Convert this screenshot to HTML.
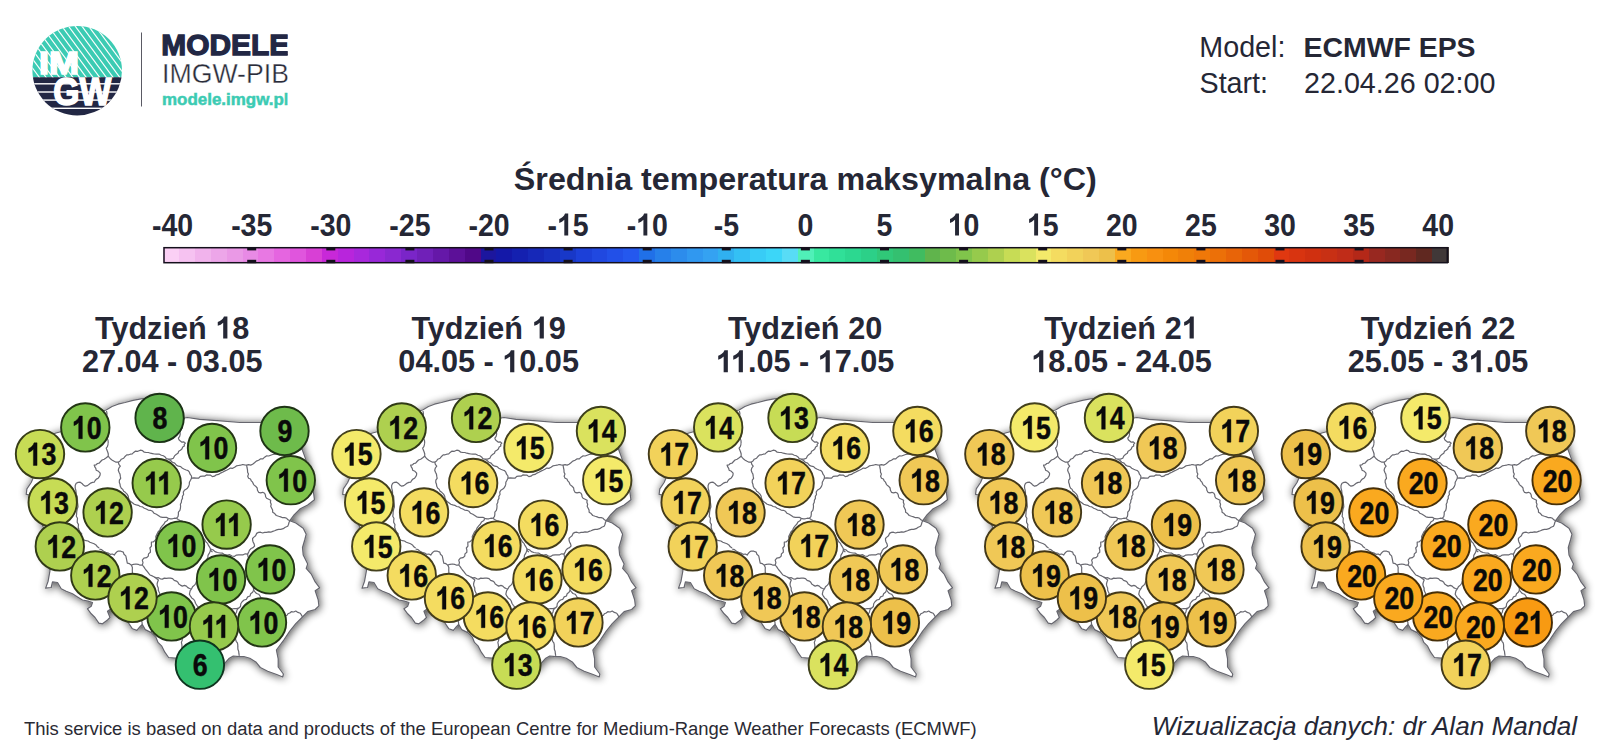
<!DOCTYPE html>
<html><head><meta charset="utf-8"><title>IMGW</title>
<style>html,body{margin:0;padding:0;background:#fff;overflow:hidden}svg{display:block}text{font-family:"Liberation Sans",sans-serif}</style></head><body>
<svg width="1600" height="743" viewBox="0 0 1600 743">
<defs>
<filter id="sh" x="-10%" y="-10%" width="125%" height="125%"><feGaussianBlur in="SourceAlpha" stdDeviation="4"/><feOffset dx="0.8" dy="0.6" result="b"/><feComponentTransfer><feFuncA type="linear" slope="0.72"/></feComponentTransfer><feMerge><feMergeNode/><feMergeNode in="SourceGraphic"/></feMerge></filter>
<path id="pl" d="M28.5 442.0 L36.0 439.5 L46.0 436.7 L56.0 433.0 L63.6 431.0 L72.0 428.5 L81.3 426.2 L88.0 421.0 L93.0 415.5 L99.0 412.0 L106.2 410.0 L112.0 406.5 L118.0 404.2 L125.0 402.5 L133.0 400.3 L141.0 398.8 L148.0 398.0 L153.0 398.5 L157.0 400.5 L162.0 404.0 L167.0 409.5 L165.5 409.5 L159.0 404.5 L157.5 407.0 L160.0 412.0 L162.0 417.5 L168.0 419.5 L176.0 419.0 L184.4 418.0 L187.5 417.5 L199.8 419.4 L217.5 420.6 L240.0 422.5 L260.0 422.5 L275.0 423.0 L283.0 423.5 L289.0 427.0 L295.0 430.5 L298.0 436.0 L301.0 442.0 L301.9 448.8 L304.7 456.4 L307.0 463.0 L309.0 472.0 L311.5 482.0 L313.7 493.8 L314.5 499.8 L307.7 505.0 L300.3 508.8 L294.3 514.7 L289.8 520.7 L295.8 523.0 L303.2 528.2 L306.2 534.2 L304.7 540.0 L302.5 547.5 L303.2 555.0 L307.7 563.9 L306.2 568.4 L311.5 574.4 L315.2 581.9 L319.7 587.8 L315.2 590.8 L318.2 599.8 L318.9 605.8 L315.2 609.5 L307.7 611.7 L302.5 617.0 L295.8 623.7 L289.8 631.2 L283.8 640.1 L276.4 650.0 L278.2 658.9 L278.2 667.0 L283.4 674.0 L282.7 677.0 L276.7 674.5 L267.7 671.2 L260.3 667.5 L255.8 661.9 L249.8 658.3 L243.8 656.5 L239.3 656.6 L233.3 656.0 L228.9 658.6 L225.1 663.0 L222.0 668.0 L215.0 672.0 L208.0 670.0 L203.0 675.0 L196.0 668.0 L190.0 664.0 L186.0 658.0 L180.0 657.0 L175.4 658.2 L168.6 657.5 L164.8 652.2 L161.8 646.2 L158.0 642.4 L155.8 637.1 L151.3 632.6 L145.2 629.6 L142.2 624.3 L140.0 626.6 L136.9 630.4 L132.4 628.8 L129.4 624.3 L126.0 619.0 L121.0 615.0 L115.0 611.0 L110.0 609.4 L107.5 611.2 L110.0 617.5 L107.5 620.0 L102.5 623.8 L98.8 623.1 L95.0 617.5 L91.2 613.8 L87.5 608.8 L91.2 606.2 L92.5 602.5 L88.1 601.2 L82.5 600.0 L77.5 596.9 L72.5 593.8 L66.2 591.2 L61.2 588.8 L57.5 582.5 L52.5 581.9 L51.2 587.5 L45.6 588.1 L48.1 581.2 L50.0 570.6 L49.0 562.0 L44.0 556.0 L42.0 549.0 L40.5 542.0 L43.0 536.0 L44.5 530.0 L41.0 522.0 L38.6 513.0 L41.0 506.0 L36.0 501.0 L31.0 497.0 L29.4 495.0 L26.2 494.4 L26.9 488.8 L31.2 482.5 L34.0 476.0 L34.2 471.0 L32.0 462.0 L30.4 452.5 Z"/>
<g id="inb" fill="none" stroke="#686870" stroke-width="1.2" stroke-linejoin="round">
<path d="M106.5 411.0 L107.0 413.4 L106.7 415.9 L107.1 418.4 L106.9 420.9 L107.0 423.4 L107.9 425.8 L108.1 428.2 L107.0 430.8 L108.0 433.2 L108.2 435.7 L107.2 438.2 L108.1 440.6 L108.2 443.1"/>
<path d="M108.2 443.1 L107.9 444.9 L107.4 446.7 L106.2 448.1 L106.9 450.1 L107.7 452.0 L108.3 454.0 L108.2 456.2 L106.3 457.8 L104.2 459.2 L102.1 460.0 L100.6 461.5 L99.2 463.2 L97.4 463.5 L96.0 464.9 L94.2 465.2 L94.8 466.9 L95.8 468.4 L96.2 470.2 L98.5 471.3 L100.2 473.2 L100.1 475.1 L99.3 476.7 L98.2 478.2 L96.4 479.1 L95.2 480.5 L94.2 482.2 L92.4 482.4 L90.7 483.1 L89.2 484.2 L87.4 485.6 L85.2 486.2 L83.4 485.1 L82.0 483.4 L80.2 482.2 L78.1 482.4 L76.2 483.2 L75.2 485.6 L75.2 488.2"/>
<path d="M108.2 456.2 L109.4 457.7 L110.7 459.1 L112.3 460.2 L114.2 461.3 L116.1 462.2 L118.3 462.2 L120.1 461.0 L121.3 459.2 L123.7 458.2 L125.3 456.2 L126.7 454.9 L128.6 454.8 L130.3 454.2 L132.3 453.8 L133.7 452.4 L135.3 451.2 L137.9 451.3 L140.3 450.2 L142.6 450.7 L144.3 452.2 L146.3 452.5 L148.4 452.5 L150.4 453.2 L152.4 453.6 L154.4 454.0 L156.4 454.2 L159.0 454.0 L161.4 455.2 L163.4 455.8 L165.1 456.9 L166.3 458.7 L168.4 459.2 L171.0 459.1 L173.4 458.2 L174.5 455.9 L176.4 454.2 L178.0 453.2 L178.7 451.2 L180.4 450.2 L181.9 449.0 L182.7 447.1 L184.4 446.1 L184.2 444.4 L185.4 443.1 L183.9 441.9 L181.9 442.2 L180.4 441.1 L179.0 439.8 L178.4 438.1 L179.7 436.3 L180.2 434.2 L180.0 431.9 L181.0 430.0 L182.3 427.8 L182.4 425.2 L183.3 422.9 L183.3 420.3 L184.4 418.0"/>
<path d="M118.3 462.2 L118.9 464.4 L120.3 466.2 L118.9 468.0 L118.3 470.2 L119.0 472.2 L120.0 474.1 L120.3 476.2 L120.7 478.3 L119.4 480.2 L119.3 482.2 L120.0 484.2 L120.3 486.3 L121.3 488.2 L122.8 489.4 L123.7 491.2 L125.3 492.3 L127.1 494.1 L128.3 496.3 L128.5 498.1 L129.3 499.8 L130.3 501.3 L132.4 502.7 L134.3 504.3 L136.3 504.9 L138.3 505.3 L140.2 506.5 L142.5 506.9 L144.3 508.3 L146.3 509.0 L148.2 510.1 L150.4 510.3 L152.6 511.3 L154.1 513.3 L156.4 514.3 L158.3 515.5 L160.2 516.8 L162.4 517.3 L164.4 517.4 L166.5 517.4 L168.4 518.3 L170.4 518.8 L172.4 518.8 L174.4 518.2 L176.4 518.3"/>
<path d="M168.4 459.2 L170.6 460.5 L172.4 462.2 L174.7 463.1 L176.3 465.1 L178.4 466.2 L180.7 466.6 L182.4 468.2 L184.4 469.2 L186.2 470.0 L188.1 470.6 L189.4 472.2 L190.1 474.2 L191.5 476.0 L191.5 478.2 L190.5 480.2 L189.4 482.2 L189.3 484.4 L188.6 486.4 L187.4 488.2 L186.0 489.3 L184.4 490.3 L183.3 492.1 L183.6 494.5 L182.4 496.3 L182.5 498.4 L181.5 500.3 L181.4 502.3 L180.4 504.2 L180.6 506.3 L180.4 508.3 L179.9 510.3 L178.4 512.1 L178.4 514.3 L178.0 516.6 L176.4 518.3"/>
<path d="M191.5 478.2 L194.0 477.8 L196.5 478.2 L198.7 478.2 L200.3 476.3 L202.5 476.2 L204.6 476.2 L206.4 474.9 L208.5 475.2 L210.6 475.2 L212.4 476.6 L214.5 476.2 L216.3 474.8 L218.6 474.4 L220.5 473.1 L222.5 472.2 L224.5 471.1 L226.5 470.2 L228.5 469.2 L230.4 468.1 L232.7 468.3 L234.6 467.2 L236.4 465.9 L238.5 465.5 L240.6 465.2 L242.6 464.5 L244.6 464.9 L246.6 465.2 L248.6 464.7 L250.7 465.1 L252.6 464.2 L254.5 462.7 L256.3 461.1 L258.6 460.2 L260.4 458.9 L262.9 458.9 L264.6 457.2 L266.4 455.9 L268.7 456.0 L270.7 455.2 L272.7 454.5 L274.7 454.2 L276.8 454.0 L278.8 453.1 L280.9 453.2 L282.9 452.4 L285.0 452.0 L287.5 451.8 L290.0 451.7 L292.3 450.8 L294.6 449.8 L297.0 449.2 L299.7 450.1 L302.0 449.0"/>
<path d="M246.6 465.2 L247.0 467.5 L247.5 469.8 L247.6 472.2 L248.5 474.1 L247.7 476.3 L248.6 478.2 L250.5 479.0 L251.3 480.9 L252.6 482.2 L253.6 484.6 L255.6 486.2 L257.2 488.0 L257.5 490.3 L258.6 492.3 L260.6 492.8 L262.7 492.3 L264.6 493.3 L265.4 494.9 L265.6 496.7 L266.6 498.3 L268.7 499.2 L270.7 500.3 L270.4 502.3 L271.2 504.3 L270.7 506.3 L271.7 508.2 L272.6 510.1 L272.7 512.3 L274.7 513.6 L276.3 515.5 L278.7 516.3 L280.7 516.9 L282.6 517.7 L284.7 517.6 L286.7 518.3 L288.0 519.8 L289.8 520.7"/>
<path d="M289.8 520.7 L289.0 522.5 L288.5 524.5 L287.7 526.3 L285.3 527.2 L283.2 528.7 L280.7 529.3 L278.6 529.4 L276.6 529.9 L274.6 530.7 L272.7 531.4 L270.7 532.2 L268.6 531.9 L266.7 532.4 L264.6 532.4 L262.6 533.0 L260.5 532.2 L258.5 532.4 L256.6 533.4 L255.6 535.8 L253.6 537.4 L252.6 538.5 L252.6 540.0 L253.1 542.0 L254.1 543.9 L254.6 546.0 L253.1 547.6 L251.1 548.5 L249.6 550.1 L248.7 552.1 L247.6 554.1 L247.9 556.2 L248.6 558.1 L249.9 559.9 L250.0 562.0 L249.1 563.9 L248.3 565.8 L247.8 567.8 L248.0 570.0 L248.6 572.1 L250.2 573.7 L251.1 575.7 L251.7 577.8 L252.0 580.0 L251.7 582.7 L253.1 585.1 L253.4 587.6 L253.6 590.2"/>
<path d="M75.2 488.2 L75.8 490.2 L76.1 492.3 L76.1 494.4 L77.2 496.3 L77.4 498.3 L77.5 500.3 L77.5 502.3 L77.8 504.3 L78.0 506.9 L77.2 509.3 L76.7 511.8 L76.6 514.3 L76.3 516.3 L77.5 518.3 L77.3 520.3 L77.2 522.3 L78.5 524.6 L78.2 527.3 L79.0 529.7 L80.0 532.0 L81.7 533.7 L81.5 536.3 L82.5 538.3 L84.2 540.0 L86.0 540.7 L88.0 541.0 L89.9 542.2 L92.0 543.0 L94.1 543.8 L96.0 544.9 L97.4 546.8 L99.2 548.0"/>
<path d="M84.2 540.0 L82.7 542.0 L80.9 543.9 L79.4 545.8 L78.0 548.0 L76.8 550.0 L75.3 551.7 L73.3 552.9 L71.8 554.6 L70.0 556.0 L67.8 556.8 L65.9 558.2 L63.9 559.5 L62.0 560.7 L60.0 562.0 L57.9 562.6 L56.2 564.1 L54.0 564.5 L52.2 565.7 L50.0 566.0"/>
<path d="M99.2 549.0 L101.6 549.7 L103.6 551.3 L105.8 552.3 L108.2 553.1 L110.1 554.3 L112.4 554.0 L114.3 555.1 L115.3 553.5 L116.6 552.1 L118.3 551.1 L120.9 551.2 L123.3 552.1 L124.0 554.3 L125.8 555.9 L126.3 558.1 L126.8 560.6 L127.3 563.1 L129.5 563.7 L131.3 565.1 L133.6 564.3 L136.0 564.0 L138.1 564.3 L140.1 565.2 L142.3 565.1"/>
<path d="M131.3 565.1 L132.4 567.5 L132.3 570.1 L132.4 572.6 L132.9 575.1 L132.9 577.6 L134.0 580.0 L133.5 582.1 L132.7 584.1 L131.3 585.9 L130.6 587.9 L130.0 590.0 L130.8 592.4 L130.7 595.1 L131.7 597.5 L132.0 600.0 L132.8 602.2 L134.9 603.7 L136.0 605.8 L136.3 608.3 L138.0 610.0 L138.9 612.3 L139.7 614.7 L139.7 617.3 L140.6 619.6 L142.0 621.8 L142.2 624.3"/>
<path d="M142.3 565.1 L143.0 562.6 L142.3 560.1 L143.9 558.2 L146.5 557.7 L148.3 556.1 L148.5 553.9 L150.4 552.3 L150.4 550.1 L149.9 548.0 L151.5 546.1 L151.4 544.1 L151.4 542.0 L153.1 542.0 L154.4 541.0 L156.0 539.0 L155.8 536.4 L156.9 534.2 L158.0 532.0 L159.7 530.2 L160.7 527.8 L162.2 525.8 L164.0 524.0 L165.1 521.9 L167.4 520.5 L168.4 518.3"/>
<path d="M142.3 565.1 L143.7 566.6 L144.8 568.3 L146.0 570.0 L147.4 571.6 L148.7 573.3 L150.0 575.0 L152.3 575.9 L154.4 577.1 L156.3 577.8 L158.5 577.7 L160.4 578.8 L162.4 579.1 L164.3 578.1 L166.4 578.3 L168.4 578.1 L170.4 578.1 L172.6 578.6 L174.2 580.4 L176.4 581.1 L177.9 582.2 L178.8 584.1 L180.4 585.1 L182.3 586.1 L184.5 585.4 L186.4 586.1 L187.8 587.6 L189.6 588.5 L191.5 589.1"/>
<path d="M154.4 577.1 L156.4 578.6 L158.4 580.1 L157.6 582.0 L157.1 584.0 L157.4 586.1 L158.3 588.0 L158.3 590.2 L159.1 592.1 L160.0 594.0 L158.8 595.9 L158.5 598.3 L157.6 600.3 L156.0 602.0 L156.7 604.5 L156.6 607.1 L157.9 609.4 L158.0 612.0 L157.4 614.0 L157.1 616.1 L155.7 617.9 L155.0 619.8 L155.0 622.0 L154.4 624.2 L152.8 626.0 L153.4 628.6 L151.6 630.3 L151.3 632.6"/>
<path d="M191.5 589.1 L192.6 586.8 L194.5 585.1 L195.7 583.6 L196.3 581.6 L197.5 580.1 L198.8 577.8 L200.7 576.0 L202.4 574.0 L204.0 572.0 L204.5 569.5 L204.9 567.0 L205.2 564.4 L206.0 562.0 L206.4 559.7 L207.8 557.8 L208.0 555.4 L209.2 553.4 L210.2 551.3 L210.5 549.0 L211.0 550.8 L212.5 552.1"/>
<path d="M176.4 518.3 L178.2 519.5 L180.0 520.5 L182.1 521.1 L184.0 522.0 L186.0 523.5 L188.1 524.9 L189.6 527.1 L192.0 528.0 L194.2 529.2 L196.3 530.6 L198.2 532.2 L200.0 534.0 L201.8 535.8 L203.2 537.8 L204.8 539.8 L206.0 542.0 L207.6 543.4 L208.5 545.4 L209.6 547.1 L210.5 549.0"/>
<path d="M191.5 589.1 L190.2 590.6 L189.8 592.4 L189.4 594.2 L190.5 596.1 L191.7 597.9 L193.5 599.2 L194.8 601.0 L195.5 603.2 L196.8 605.3 L198.5 607.2 L196.7 608.6 L195.5 610.4 L194.5 612.4 L193.7 614.5 L192.0 616.0 L190.9 618.1 L189.0 619.6 L188.9 622.3 L187.4 624.1 L186.0 626.0 L184.7 628.2 L184.8 630.7 L184.4 633.1 L183.6 635.4 L182.1 637.5 L182.3 640.1 L181.4 642.4 L181.9 644.8 L182.0 647.2 L182.1 649.7 L183.0 652.0 L182.0 653.7 L181.5 655.7 L180.0 657.0"/>
<path d="M198.5 607.2 L200.7 606.5 L203.1 607.0 L205.4 606.7 L207.7 606.2 L210.0 606.0 L212.5 606.0 L214.7 607.2 L217.1 607.7 L219.6 607.6 L222.0 608.0 L224.5 608.3 L227.0 608.1 L229.6 608.0 L232.0 609.0 L234.2 608.5 L236.4 608.6 L238.6 608.2"/>
<path d="M238.6 608.2 L240.5 606.5 L240.8 603.8 L242.1 601.7 L244.0 600.0 L246.4 599.3 L247.7 596.9 L250.0 596.0 L250.7 593.8 L252.6 592.3 L253.6 590.2"/>
<path d="M238.6 608.2 L237.0 609.8 L236.6 612.0 L235.5 614.0 L235.2 616.2 L235.9 618.6 L234.7 620.6 L234.5 622.9 L234.0 625.0 L234.2 627.4 L235.1 629.7 L235.3 632.1 L235.1 634.6 L235.7 637.0 L235.6 639.4 L236.2 641.3 L237.4 642.9 L237.8 644.9 L237.8 646.9 L237.9 649.2 L238.7 651.4 L238.9 653.7 L239.3 655.9"/>
<path d="M253.6 590.2 L255.0 591.9 L256.5 593.5 L258.7 594.2 L260.0 596.0 L261.1 598.1 L263.5 598.9 L264.6 601.0 L266.8 602.0 L268.0 604.0 L269.3 605.9 L271.6 606.8 L272.6 609.0 L274.2 610.6 L276.0 612.0 L278.0 613.1 L280.3 613.3 L282.3 614.6 L284.4 615.5 L286.8 615.5 L287.9 613.8 L289.8 613.0 L291.3 611.7 L293.7 612.0 L295.8 611.0 L297.9 612.4 L300.3 613.2 L301.5 615.1 L302.5 617.0"/>
<path d="M210.5 549.0 L212.9 549.8 L215.0 551.6 L217.4 552.5 L220.0 553.0 L222.5 553.2 L224.7 554.7 L227.2 555.0 L229.8 554.7 L232.0 556.0 L234.3 556.4 L236.4 555.1 L238.7 554.9 L240.9 554.8 L243.2 554.8 L245.3 553.8 L247.6 554.1"/>
</g>
<path id="one" d="M806 0 L525 0 L525 1059 Q371 915 162 846 L162 1101 Q272 1137 401 1237.5 Q530 1338 578 1472 L806 1472 Z"/>
<clipPath id="lc"><circle cx="77.2" cy="70.7" r="44.8"/></clipPath><clipPath id="lt"><rect x="30" y="20" width="100" height="57.2"/></clipPath>
</defs>
<rect width="1600" height="743" fill="#fff"/>
<g clip-path="url(#lc)">
<rect x="30" y="24" width="95" height="53.2" fill="#3ccbb3"/>
<rect x="30" y="77.2" width="95" height="40" fill="#222744"/>
<g stroke="#fff" stroke-width="1.15" clip-path="url(#lt)"><line x1="-60.4" y1="24" x2="-16.0" y2="84.0"/><line x1="-53.7" y1="24" x2="-9.3" y2="84.0"/><line x1="-47.0" y1="24" x2="-2.6" y2="84.0"/><line x1="-40.3" y1="24" x2="4.1" y2="84.0"/><line x1="-33.6" y1="24" x2="10.8" y2="84.0"/><line x1="-26.9" y1="24" x2="17.5" y2="84.0"/><line x1="-20.2" y1="24" x2="24.2" y2="84.0"/><line x1="-13.5" y1="24" x2="30.9" y2="84.0"/><line x1="-6.8" y1="24" x2="37.6" y2="84.0"/><line x1="-0.1" y1="24" x2="44.3" y2="84.0"/><line x1="6.6" y1="24" x2="51.0" y2="84.0"/><line x1="13.3" y1="24" x2="57.7" y2="84.0"/><line x1="20.0" y1="24" x2="64.4" y2="84.0"/><line x1="26.7" y1="24" x2="71.1" y2="84.0"/><line x1="33.4" y1="24" x2="77.8" y2="84.0"/><line x1="40.1" y1="24" x2="84.5" y2="84.0"/><line x1="46.8" y1="24" x2="91.2" y2="84.0"/><line x1="53.5" y1="24" x2="97.9" y2="84.0"/><line x1="60.2" y1="24" x2="104.6" y2="84.0"/><line x1="66.9" y1="24" x2="111.3" y2="84.0"/><line x1="73.6" y1="24" x2="118.0" y2="84.0"/><line x1="80.3" y1="24" x2="124.7" y2="84.0"/><line x1="87.0" y1="24" x2="131.4" y2="84.0"/><line x1="93.7" y1="24" x2="138.1" y2="84.0"/><line x1="100.4" y1="24" x2="144.8" y2="84.0"/><line x1="107.1" y1="24" x2="151.5" y2="84.0"/><line x1="113.8" y1="24" x2="158.2" y2="84.0"/><line x1="120.5" y1="24" x2="164.9" y2="84.0"/><line x1="127.2" y1="24" x2="171.6" y2="84.0"/><line x1="133.9" y1="24" x2="178.3" y2="84.0"/><line x1="140.6" y1="24" x2="185.0" y2="84.0"/><line x1="147.3" y1="24" x2="191.7" y2="84.0"/><line x1="154.0" y1="24" x2="198.4" y2="84.0"/><line x1="160.7" y1="24" x2="205.1" y2="84.0"/></g>
<rect x="30" y="83.1" width="95" height="1.4" fill="#fff"/>
<rect x="30" y="91.3" width="95" height="1.4" fill="#fff"/>
<rect x="30" y="99.4" width="95" height="1.4" fill="#fff"/>
<rect x="30" y="107.6" width="95" height="1.4" fill="#fff"/>
</g>
<text x="39" y="73.6" font-size="31" font-weight="700" fill="#fff" stroke="#fff" stroke-width="1.6" textLength="40" lengthAdjust="spacingAndGlyphs">IM</text>
<text x="53.3" y="105.3" font-size="38" font-weight="700" fill="#fff" stroke="#fff" stroke-width="1.6" textLength="58" lengthAdjust="spacingAndGlyphs">GW</text>
<rect x="141" y="32.5" width="1" height="74" fill="#5a5a64"/>
<clipPath id="lx"><rect x="150" y="20" width="137.7" height="100"/></clipPath><g clip-path="url(#lx)">
<text x="161.3" y="55.3" font-size="30" font-weight="700" fill="#222744" stroke="#222744" stroke-width="1.3" textLength="128" lengthAdjust="spacingAndGlyphs">MODELE</text>
<text x="162" y="83" font-size="27.3" fill="#2a2c3a" stroke="#fff" stroke-width="0.35" textLength="127" lengthAdjust="spacingAndGlyphs">IMGW-PIB</text>
<text x="162" y="104.6" font-size="16.6" font-weight="700" fill="#3ccbb3" stroke="#3ccbb3" stroke-width="0.5" textLength="126.5" lengthAdjust="spacingAndGlyphs">modele.imgw.pl</text>
</g>
<g font-size="28.7" fill="#252735">
<text x="1199.3" y="57">Model:</text>
<text x="1303.6" y="57" font-weight="700" font-size="28.4">ECMWF EPS</text>
<text x="1199.5" y="93">Start:</text>
<text x="1304" y="93">22.04.26 02:00</text>
</g>
<text x="805.3" y="190.3" font-size="32.25" font-weight="700" fill="#252735" text-anchor="middle">Średnia temperatura maksymalna (°C)</text>
<rect x="163.30" y="247" width="16.46" height="16" fill="#FBD0F5" shape-rendering="crispEdges"/>
<rect x="179.16" y="247" width="16.46" height="16" fill="#F6C2F1" shape-rendering="crispEdges"/>
<rect x="195.02" y="247" width="16.46" height="16" fill="#F1B3EC" shape-rendering="crispEdges"/>
<rect x="210.88" y="247" width="16.46" height="16" fill="#EDA6E9" shape-rendering="crispEdges"/>
<rect x="226.74" y="247" width="16.46" height="16" fill="#EA99E6" shape-rendering="crispEdges"/>
<rect x="242.60" y="247" width="16.46" height="16" fill="#E88AE5" shape-rendering="crispEdges"/>
<rect x="258.46" y="247" width="16.46" height="16" fill="#E878E3" shape-rendering="crispEdges"/>
<rect x="274.32" y="247" width="16.46" height="16" fill="#E565E0" shape-rendering="crispEdges"/>
<rect x="290.18" y="247" width="16.46" height="16" fill="#E055DD" shape-rendering="crispEdges"/>
<rect x="306.04" y="247" width="16.46" height="16" fill="#D840D5" shape-rendering="crispEdges"/>
<rect x="321.90" y="247" width="16.46" height="16" fill="#C828D8" shape-rendering="crispEdges"/>
<rect x="337.77" y="247" width="16.46" height="16" fill="#B825DC" shape-rendering="crispEdges"/>
<rect x="353.63" y="247" width="16.46" height="16" fill="#A828DC" shape-rendering="crispEdges"/>
<rect x="369.49" y="247" width="16.46" height="16" fill="#9828D8" shape-rendering="crispEdges"/>
<rect x="385.35" y="247" width="16.46" height="16" fill="#8A28D0" shape-rendering="crispEdges"/>
<rect x="401.21" y="247" width="16.46" height="16" fill="#7A25C8" shape-rendering="crispEdges"/>
<rect x="417.07" y="247" width="16.46" height="16" fill="#7020B8" shape-rendering="crispEdges"/>
<rect x="432.93" y="247" width="16.46" height="16" fill="#6518A8" shape-rendering="crispEdges"/>
<rect x="448.79" y="247" width="16.46" height="16" fill="#5C1098" shape-rendering="crispEdges"/>
<rect x="464.65" y="247" width="16.46" height="16" fill="#500888" shape-rendering="crispEdges"/>
<rect x="480.51" y="247" width="16.46" height="16" fill="#1C169E" shape-rendering="crispEdges"/>
<rect x="496.37" y="247" width="16.46" height="16" fill="#1418A8" shape-rendering="crispEdges"/>
<rect x="512.23" y="247" width="16.46" height="16" fill="#1420B0" shape-rendering="crispEdges"/>
<rect x="528.09" y="247" width="16.46" height="16" fill="#1628B8" shape-rendering="crispEdges"/>
<rect x="543.95" y="247" width="16.46" height="16" fill="#1830C0" shape-rendering="crispEdges"/>
<rect x="559.81" y="247" width="16.46" height="16" fill="#1838C8" shape-rendering="crispEdges"/>
<rect x="575.67" y="247" width="16.46" height="16" fill="#1C40D8" shape-rendering="crispEdges"/>
<rect x="591.53" y="247" width="16.46" height="16" fill="#2048E0" shape-rendering="crispEdges"/>
<rect x="607.39" y="247" width="16.46" height="16" fill="#2250E8" shape-rendering="crispEdges"/>
<rect x="623.25" y="247" width="16.46" height="16" fill="#2458EE" shape-rendering="crispEdges"/>
<rect x="639.11" y="247" width="16.46" height="16" fill="#2070E8" shape-rendering="crispEdges"/>
<rect x="654.98" y="247" width="16.46" height="16" fill="#2680EA" shape-rendering="crispEdges"/>
<rect x="670.84" y="247" width="16.46" height="16" fill="#2C8CEC" shape-rendering="crispEdges"/>
<rect x="686.70" y="247" width="16.46" height="16" fill="#3098F0" shape-rendering="crispEdges"/>
<rect x="702.56" y="247" width="16.46" height="16" fill="#34A2F2" shape-rendering="crispEdges"/>
<rect x="718.42" y="247" width="16.46" height="16" fill="#30B0F0" shape-rendering="crispEdges"/>
<rect x="734.28" y="247" width="16.46" height="16" fill="#34C0F4" shape-rendering="crispEdges"/>
<rect x="750.14" y="247" width="16.46" height="16" fill="#38CCF6" shape-rendering="crispEdges"/>
<rect x="766.00" y="247" width="16.46" height="16" fill="#3CD6F8" shape-rendering="crispEdges"/>
<rect x="781.86" y="247" width="16.46" height="16" fill="#58DCF6" shape-rendering="crispEdges"/>
<rect x="797.72" y="247" width="16.46" height="16" fill="#50F0B8" shape-rendering="crispEdges"/>
<rect x="813.58" y="247" width="16.46" height="16" fill="#38E8A0" shape-rendering="crispEdges"/>
<rect x="829.44" y="247" width="16.46" height="16" fill="#30E098" shape-rendering="crispEdges"/>
<rect x="845.30" y="247" width="16.46" height="16" fill="#2CD890" shape-rendering="crispEdges"/>
<rect x="861.16" y="247" width="16.46" height="16" fill="#2CD088" shape-rendering="crispEdges"/>
<rect x="877.02" y="247" width="16.46" height="16" fill="#30C878" shape-rendering="crispEdges"/>
<rect x="892.88" y="247" width="16.46" height="16" fill="#34C070" shape-rendering="crispEdges"/>
<rect x="908.74" y="247" width="16.46" height="16" fill="#40BC60" shape-rendering="crispEdges"/>
<rect x="924.60" y="247" width="16.46" height="16" fill="#60B44C" shape-rendering="crispEdges"/>
<rect x="940.46" y="247" width="16.46" height="16" fill="#6EBB4B" shape-rendering="crispEdges"/>
<rect x="956.32" y="247" width="16.46" height="16" fill="#80C44B" shape-rendering="crispEdges"/>
<rect x="972.19" y="247" width="16.46" height="16" fill="#96CA4C" shape-rendering="crispEdges"/>
<rect x="988.05" y="247" width="16.46" height="16" fill="#AED04F" shape-rendering="crispEdges"/>
<rect x="1003.91" y="247" width="16.46" height="16" fill="#C7DC55" shape-rendering="crispEdges"/>
<rect x="1019.77" y="247" width="16.46" height="16" fill="#DAE25E" shape-rendering="crispEdges"/>
<rect x="1035.63" y="247" width="16.46" height="16" fill="#F4EA6A" shape-rendering="crispEdges"/>
<rect x="1051.49" y="247" width="16.46" height="16" fill="#F4DC60" shape-rendering="crispEdges"/>
<rect x="1067.35" y="247" width="16.46" height="16" fill="#F2D25A" shape-rendering="crispEdges"/>
<rect x="1083.21" y="247" width="16.46" height="16" fill="#F0C856" shape-rendering="crispEdges"/>
<rect x="1099.07" y="247" width="16.46" height="16" fill="#EDC04A" shape-rendering="crispEdges"/>
<rect x="1114.93" y="247" width="16.46" height="16" fill="#FAA91F" shape-rendering="crispEdges"/>
<rect x="1130.79" y="247" width="16.46" height="16" fill="#F89A12" shape-rendering="crispEdges"/>
<rect x="1146.65" y="247" width="16.46" height="16" fill="#F89010" shape-rendering="crispEdges"/>
<rect x="1162.51" y="247" width="16.46" height="16" fill="#F48808" shape-rendering="crispEdges"/>
<rect x="1178.37" y="247" width="16.46" height="16" fill="#F08008" shape-rendering="crispEdges"/>
<rect x="1194.23" y="247" width="16.46" height="16" fill="#F07808" shape-rendering="crispEdges"/>
<rect x="1210.09" y="247" width="16.46" height="16" fill="#EC7008" shape-rendering="crispEdges"/>
<rect x="1225.95" y="247" width="16.46" height="16" fill="#E86408" shape-rendering="crispEdges"/>
<rect x="1241.81" y="247" width="16.46" height="16" fill="#E45808" shape-rendering="crispEdges"/>
<rect x="1257.67" y="247" width="16.46" height="16" fill="#E04C08" shape-rendering="crispEdges"/>
<rect x="1273.53" y="247" width="16.46" height="16" fill="#E03810" shape-rendering="crispEdges"/>
<rect x="1289.40" y="247" width="16.46" height="16" fill="#D83410" shape-rendering="crispEdges"/>
<rect x="1305.26" y="247" width="16.46" height="16" fill="#D03010" shape-rendering="crispEdges"/>
<rect x="1321.12" y="247" width="16.46" height="16" fill="#C83014" shape-rendering="crispEdges"/>
<rect x="1336.98" y="247" width="16.46" height="16" fill="#C02C18" shape-rendering="crispEdges"/>
<rect x="1352.84" y="247" width="16.46" height="16" fill="#B42818" shape-rendering="crispEdges"/>
<rect x="1368.70" y="247" width="16.46" height="16" fill="#982820" shape-rendering="crispEdges"/>
<rect x="1384.56" y="247" width="16.46" height="16" fill="#882820" shape-rendering="crispEdges"/>
<rect x="1400.42" y="247" width="16.46" height="16" fill="#782820" shape-rendering="crispEdges"/>
<rect x="1416.28" y="247" width="16.46" height="16" fill="#602820" shape-rendering="crispEdges"/>
<rect x="1432.14" y="247" width="16.46" height="16" fill="#403838" shape-rendering="crispEdges"/>
<rect x="164.0" y="247.7" width="1283.3" height="15" fill="none" stroke="#14101c" stroke-width="1.5"/>
<g transform="translate(172.60 235.60) scale(0.925 1)" font-size="30.80" font-weight="700" fill="#252735" style="white-space:pre"><text x="-22.25" y="0">-40</text></g>
<rect x="247.2" y="247" width="9" height="3.4" fill="#14101c"/><rect x="247.2" y="259.8" width="9" height="3.4" fill="#14101c"/>
<g transform="translate(251.70 235.60) scale(0.925 1)" font-size="30.80" font-weight="700" fill="#252735" style="white-space:pre"><text x="-22.25" y="0">-35</text></g>
<rect x="326.3" y="247" width="9" height="3.4" fill="#14101c"/><rect x="326.3" y="259.8" width="9" height="3.4" fill="#14101c"/>
<g transform="translate(330.80 235.60) scale(0.925 1)" font-size="30.80" font-weight="700" fill="#252735" style="white-space:pre"><text x="-22.25" y="0">-30</text></g>
<rect x="405.4" y="247" width="9" height="3.4" fill="#14101c"/><rect x="405.4" y="259.8" width="9" height="3.4" fill="#14101c"/>
<g transform="translate(409.90 235.60) scale(0.925 1)" font-size="30.80" font-weight="700" fill="#252735" style="white-space:pre"><text x="-22.25" y="0">-25</text></g>
<rect x="484.5" y="247" width="9" height="3.4" fill="#14101c"/><rect x="484.5" y="259.8" width="9" height="3.4" fill="#14101c"/>
<g transform="translate(489.00 235.60) scale(0.925 1)" font-size="30.80" font-weight="700" fill="#252735" style="white-space:pre"><text x="-22.25" y="0">-20</text></g>
<rect x="563.6" y="247" width="9" height="3.4" fill="#14101c"/><rect x="563.6" y="259.8" width="9" height="3.4" fill="#14101c"/>
<g transform="translate(568.10 235.60) scale(0.925 1)" font-size="30.80" font-weight="700" fill="#252735" style="white-space:pre"><text x="-22.25" y="0">-</text><use href="#one" transform="translate(-12.00 0) scale(0.01504 -0.01504)"/><text x="5.13" y="0">5</text></g>
<rect x="642.7" y="247" width="9" height="3.4" fill="#14101c"/><rect x="642.7" y="259.8" width="9" height="3.4" fill="#14101c"/>
<g transform="translate(647.20 235.60) scale(0.925 1)" font-size="30.80" font-weight="700" fill="#252735" style="white-space:pre"><text x="-22.25" y="0">-</text><use href="#one" transform="translate(-12.00 0) scale(0.01504 -0.01504)"/><text x="5.13" y="0">0</text></g>
<rect x="721.8" y="247" width="9" height="3.4" fill="#14101c"/><rect x="721.8" y="259.8" width="9" height="3.4" fill="#14101c"/>
<g transform="translate(726.30 235.60) scale(0.925 1)" font-size="30.80" font-weight="700" fill="#252735" style="white-space:pre"><text x="-13.69" y="0">-5</text></g>
<rect x="800.9" y="247" width="9" height="3.4" fill="#14101c"/><rect x="800.9" y="259.8" width="9" height="3.4" fill="#14101c"/>
<g transform="translate(805.40 235.60) scale(0.925 1)" font-size="30.80" font-weight="700" fill="#252735" style="white-space:pre"><text x="-8.56" y="0">0</text></g>
<rect x="880.0" y="247" width="9" height="3.4" fill="#14101c"/><rect x="880.0" y="259.8" width="9" height="3.4" fill="#14101c"/>
<g transform="translate(884.50 235.60) scale(0.925 1)" font-size="30.80" font-weight="700" fill="#252735" style="white-space:pre"><text x="-8.56" y="0">5</text></g>
<rect x="959.1" y="247" width="9" height="3.4" fill="#14101c"/><rect x="959.1" y="259.8" width="9" height="3.4" fill="#14101c"/>
<g transform="translate(963.60 235.60) scale(0.925 1)" font-size="30.80" font-weight="700" fill="#252735" style="white-space:pre"><use href="#one" transform="translate(-17.12 0) scale(0.01504 -0.01504)"/><text x="0.00" y="0">0</text></g>
<rect x="1038.2" y="247" width="9" height="3.4" fill="#14101c"/><rect x="1038.2" y="259.8" width="9" height="3.4" fill="#14101c"/>
<g transform="translate(1042.70 235.60) scale(0.925 1)" font-size="30.80" font-weight="700" fill="#252735" style="white-space:pre"><use href="#one" transform="translate(-17.12 0) scale(0.01504 -0.01504)"/><text x="0.00" y="0">5</text></g>
<rect x="1117.3" y="247" width="9" height="3.4" fill="#14101c"/><rect x="1117.3" y="259.8" width="9" height="3.4" fill="#14101c"/>
<g transform="translate(1121.80 235.60) scale(0.925 1)" font-size="30.80" font-weight="700" fill="#252735" style="white-space:pre"><text x="-17.12" y="0">20</text></g>
<rect x="1196.4" y="247" width="9" height="3.4" fill="#14101c"/><rect x="1196.4" y="259.8" width="9" height="3.4" fill="#14101c"/>
<g transform="translate(1200.90 235.60) scale(0.925 1)" font-size="30.80" font-weight="700" fill="#252735" style="white-space:pre"><text x="-17.12" y="0">25</text></g>
<rect x="1275.5" y="247" width="9" height="3.4" fill="#14101c"/><rect x="1275.5" y="259.8" width="9" height="3.4" fill="#14101c"/>
<g transform="translate(1280.00 235.60) scale(0.925 1)" font-size="30.80" font-weight="700" fill="#252735" style="white-space:pre"><text x="-17.12" y="0">30</text></g>
<rect x="1354.6" y="247" width="9" height="3.4" fill="#14101c"/><rect x="1354.6" y="259.8" width="9" height="3.4" fill="#14101c"/>
<g transform="translate(1359.10 235.60) scale(0.925 1)" font-size="30.80" font-weight="700" fill="#252735" style="white-space:pre"><text x="-17.12" y="0">35</text></g>
<g transform="translate(1438.20 235.60) scale(0.925 1)" font-size="30.80" font-weight="700" fill="#252735" style="white-space:pre"><text x="-17.12" y="0">40</text></g>
<text x="94.99" y="338.5" font-size="30.6" font-weight="700" fill="#252735">Tydzień</text>
<g transform="translate(232.37 338.50) scale(1.000 1)" font-size="30.65" font-weight="700" fill="#252735" style="white-space:pre"><use href="#one" transform="translate(-17.04 0) scale(0.01497 -0.01497)"/><text x="0.00" y="0">8</text></g>
<g transform="translate(172.20 372.30) scale(1.000 1)" font-size="30.65" font-weight="700" fill="#252735" style="white-space:pre"><text x="-90.31" y="0">27.04 - 03.05</text></g>
<g transform="translate(0.00 0)">
<use href="#pl" fill="#fff" stroke="#66666e" stroke-width="1.2" stroke-linejoin="round" filter="url(#sh)"/>
<use href="#inb"/>
<circle cx="40.0" cy="454.1" r="24.2" fill="#C7DC55" stroke="#373d17" stroke-width="1.9"/>
<g transform="translate(41.40 465.45) scale(0.850 1)" font-size="31.50" font-weight="700" fill="#0a0a0a" stroke="#0a0a0a" stroke-width="0.45" style="white-space:pre"><use href="#one" transform="translate(-17.51 0) scale(0.01538 -0.01538)" stroke-width="29.3"/><text x="0.00" y="0">3</text></g>
<circle cx="85.3" cy="427.4" r="24.2" fill="#80C44B" stroke="#233615" stroke-width="1.9"/>
<g transform="translate(86.70 438.70) scale(0.850 1)" font-size="31.50" font-weight="700" fill="#0a0a0a" stroke="#0a0a0a" stroke-width="0.45" style="white-space:pre"><use href="#one" transform="translate(-17.51 0) scale(0.01538 -0.01538)" stroke-width="29.3"/><text x="0.00" y="0">0</text></g>
<circle cx="159.6" cy="417.9" r="24.2" fill="#60B44C" stroke="#1a3215" stroke-width="1.9"/>
<g transform="translate(160.00 429.20) scale(0.850 1)" font-size="31.50" font-weight="700" fill="#0a0a0a" stroke="#0a0a0a" stroke-width="0.45" style="white-space:pre"><text x="-8.76" y="0">8</text></g>
<circle cx="212.0" cy="447.9" r="24.2" fill="#80C44B" stroke="#233615" stroke-width="1.9"/>
<g transform="translate(213.40 459.20) scale(0.850 1)" font-size="31.50" font-weight="700" fill="#0a0a0a" stroke="#0a0a0a" stroke-width="0.45" style="white-space:pre"><use href="#one" transform="translate(-17.51 0) scale(0.01538 -0.01538)" stroke-width="29.3"/><text x="0.00" y="0">0</text></g>
<circle cx="284.5" cy="430.9" r="24.2" fill="#6EBB4B" stroke="#1e3415" stroke-width="1.9"/>
<g transform="translate(284.90 442.20) scale(0.850 1)" font-size="31.50" font-weight="700" fill="#0a0a0a" stroke="#0a0a0a" stroke-width="0.45" style="white-space:pre"><text x="-8.76" y="0">9</text></g>
<circle cx="290.8" cy="480.2" r="24.2" fill="#80C44B" stroke="#233615" stroke-width="1.9"/>
<g transform="translate(292.15 491.50) scale(0.850 1)" font-size="31.50" font-weight="700" fill="#0a0a0a" stroke="#0a0a0a" stroke-width="0.45" style="white-space:pre"><use href="#one" transform="translate(-17.51 0) scale(0.01538 -0.01538)" stroke-width="29.3"/><text x="0.00" y="0">0</text></g>
<circle cx="156.7" cy="483.0" r="24.2" fill="#96CA4C" stroke="#2a3815" stroke-width="1.9"/>
<g transform="translate(158.10 494.30) scale(0.850 1)" font-size="31.50" font-weight="700" fill="#0a0a0a" stroke="#0a0a0a" stroke-width="0.45" style="white-space:pre"><use href="#one" transform="translate(-16.49 0) scale(0.01538 -0.01538)" stroke-width="29.3"/><use href="#one" transform="translate(-1.02 0) scale(0.01538 -0.01538)" stroke-width="29.3"/></g>
<circle cx="52.7" cy="502.4" r="24.2" fill="#C7DC55" stroke="#373d17" stroke-width="1.9"/>
<g transform="translate(54.10 513.70) scale(0.850 1)" font-size="31.50" font-weight="700" fill="#0a0a0a" stroke="#0a0a0a" stroke-width="0.45" style="white-space:pre"><use href="#one" transform="translate(-17.51 0) scale(0.01538 -0.01538)" stroke-width="29.3"/><text x="0.00" y="0">3</text></g>
<circle cx="107.6" cy="512.4" r="24.2" fill="#AED04F" stroke="#303a16" stroke-width="1.9"/>
<g transform="translate(109.00 523.70) scale(0.850 1)" font-size="31.50" font-weight="700" fill="#0a0a0a" stroke="#0a0a0a" stroke-width="0.45" style="white-space:pre"><use href="#one" transform="translate(-17.51 0) scale(0.01538 -0.01538)" stroke-width="29.3"/><text x="0.00" y="0">2</text></g>
<circle cx="180.0" cy="545.6" r="24.2" fill="#80C44B" stroke="#233615" stroke-width="1.9"/>
<g transform="translate(181.40 556.90) scale(0.850 1)" font-size="31.50" font-weight="700" fill="#0a0a0a" stroke="#0a0a0a" stroke-width="0.45" style="white-space:pre"><use href="#one" transform="translate(-17.51 0) scale(0.01538 -0.01538)" stroke-width="29.3"/><text x="0.00" y="0">0</text></g>
<circle cx="226.6" cy="524.6" r="24.2" fill="#96CA4C" stroke="#2a3815" stroke-width="1.9"/>
<g transform="translate(228.00 535.90) scale(0.850 1)" font-size="31.50" font-weight="700" fill="#0a0a0a" stroke="#0a0a0a" stroke-width="0.45" style="white-space:pre"><use href="#one" transform="translate(-16.49 0) scale(0.01538 -0.01538)" stroke-width="29.3"/><use href="#one" transform="translate(-1.02 0) scale(0.01538 -0.01538)" stroke-width="29.3"/></g>
<circle cx="59.8" cy="546.4" r="24.2" fill="#AED04F" stroke="#303a16" stroke-width="1.9"/>
<g transform="translate(61.20 557.70) scale(0.850 1)" font-size="31.50" font-weight="700" fill="#0a0a0a" stroke="#0a0a0a" stroke-width="0.45" style="white-space:pre"><use href="#one" transform="translate(-17.51 0) scale(0.01538 -0.01538)" stroke-width="29.3"/><text x="0.00" y="0">2</text></g>
<circle cx="95.3" cy="575.4" r="24.2" fill="#AED04F" stroke="#303a16" stroke-width="1.9"/>
<g transform="translate(96.70 586.70) scale(0.850 1)" font-size="31.50" font-weight="700" fill="#0a0a0a" stroke="#0a0a0a" stroke-width="0.45" style="white-space:pre"><use href="#one" transform="translate(-17.51 0) scale(0.01538 -0.01538)" stroke-width="29.3"/><text x="0.00" y="0">2</text></g>
<circle cx="221.0" cy="579.4" r="24.2" fill="#80C44B" stroke="#233615" stroke-width="1.9"/>
<g transform="translate(222.40 590.70) scale(0.850 1)" font-size="31.50" font-weight="700" fill="#0a0a0a" stroke="#0a0a0a" stroke-width="0.45" style="white-space:pre"><use href="#one" transform="translate(-17.51 0) scale(0.01538 -0.01538)" stroke-width="29.3"/><text x="0.00" y="0">0</text></g>
<circle cx="270.1" cy="569.4" r="24.2" fill="#80C44B" stroke="#233615" stroke-width="1.9"/>
<g transform="translate(271.50 580.70) scale(0.850 1)" font-size="31.50" font-weight="700" fill="#0a0a0a" stroke="#0a0a0a" stroke-width="0.45" style="white-space:pre"><use href="#one" transform="translate(-17.51 0) scale(0.01538 -0.01538)" stroke-width="29.3"/><text x="0.00" y="0">0</text></g>
<circle cx="171.5" cy="616.4" r="24.2" fill="#80C44B" stroke="#233615" stroke-width="1.9"/>
<g transform="translate(172.90 627.70) scale(0.850 1)" font-size="31.50" font-weight="700" fill="#0a0a0a" stroke="#0a0a0a" stroke-width="0.45" style="white-space:pre"><use href="#one" transform="translate(-17.51 0) scale(0.01538 -0.01538)" stroke-width="29.3"/><text x="0.00" y="0">0</text></g>
<circle cx="132.5" cy="597.9" r="24.2" fill="#AED04F" stroke="#303a16" stroke-width="1.9"/>
<g transform="translate(133.90 609.20) scale(0.850 1)" font-size="31.50" font-weight="700" fill="#0a0a0a" stroke="#0a0a0a" stroke-width="0.45" style="white-space:pre"><use href="#one" transform="translate(-17.51 0) scale(0.01538 -0.01538)" stroke-width="29.3"/><text x="0.00" y="0">2</text></g>
<circle cx="262.0" cy="622.4" r="24.2" fill="#80C44B" stroke="#233615" stroke-width="1.9"/>
<g transform="translate(263.40 633.70) scale(0.850 1)" font-size="31.50" font-weight="700" fill="#0a0a0a" stroke="#0a0a0a" stroke-width="0.45" style="white-space:pre"><use href="#one" transform="translate(-17.51 0) scale(0.01538 -0.01538)" stroke-width="29.3"/><text x="0.00" y="0">0</text></g>
<circle cx="214.0" cy="626.4" r="24.2" fill="#96CA4C" stroke="#2a3815" stroke-width="1.9"/>
<g transform="translate(215.40 637.70) scale(0.850 1)" font-size="31.50" font-weight="700" fill="#0a0a0a" stroke="#0a0a0a" stroke-width="0.45" style="white-space:pre"><use href="#one" transform="translate(-16.49 0) scale(0.01538 -0.01538)" stroke-width="29.3"/><use href="#one" transform="translate(-1.02 0) scale(0.01538 -0.01538)" stroke-width="29.3"/></g>
<circle cx="199.9" cy="664.7" r="24.2" fill="#34C070" stroke="#0e351f" stroke-width="1.9"/>
<g transform="translate(200.30 676.00) scale(0.850 1)" font-size="31.50" font-weight="700" fill="#0a0a0a" stroke="#0a0a0a" stroke-width="0.45" style="white-space:pre"><text x="-8.76" y="0">6</text></g>
</g>
<text x="411.44" y="338.5" font-size="30.6" font-weight="700" fill="#252735">Tydzień</text>
<g transform="translate(548.82 338.50) scale(1.000 1)" font-size="30.65" font-weight="700" fill="#252735" style="white-space:pre"><use href="#one" transform="translate(-17.04 0) scale(0.01497 -0.01497)"/><text x="0.00" y="0">9</text></g>
<g transform="translate(488.65 372.30) scale(1.000 1)" font-size="30.65" font-weight="700" fill="#252735" style="white-space:pre"><text x="-90.31" y="0">04.05 - </text><use href="#one" transform="translate(13.62 0) scale(0.01497 -0.01497)"/><text x="30.67" y="0">0.05</text></g>
<g transform="translate(316.45 0)">
<use href="#pl" fill="#fff" stroke="#66666e" stroke-width="1.2" stroke-linejoin="round" filter="url(#sh)"/>
<use href="#inb"/>
<circle cx="40.0" cy="454.1" r="24.2" fill="#F4EA6A" stroke="#44411d" stroke-width="1.9"/>
<g transform="translate(41.40 465.45) scale(0.850 1)" font-size="31.50" font-weight="700" fill="#0a0a0a" stroke="#0a0a0a" stroke-width="0.45" style="white-space:pre"><use href="#one" transform="translate(-17.51 0) scale(0.01538 -0.01538)" stroke-width="29.3"/><text x="0.00" y="0">5</text></g>
<circle cx="85.3" cy="427.4" r="24.2" fill="#AED04F" stroke="#303a16" stroke-width="1.9"/>
<g transform="translate(86.70 438.70) scale(0.850 1)" font-size="31.50" font-weight="700" fill="#0a0a0a" stroke="#0a0a0a" stroke-width="0.45" style="white-space:pre"><use href="#one" transform="translate(-17.51 0) scale(0.01538 -0.01538)" stroke-width="29.3"/><text x="0.00" y="0">2</text></g>
<circle cx="159.6" cy="417.9" r="24.2" fill="#AED04F" stroke="#303a16" stroke-width="1.9"/>
<g transform="translate(161.00 429.20) scale(0.850 1)" font-size="31.50" font-weight="700" fill="#0a0a0a" stroke="#0a0a0a" stroke-width="0.45" style="white-space:pre"><use href="#one" transform="translate(-17.51 0) scale(0.01538 -0.01538)" stroke-width="29.3"/><text x="0.00" y="0">2</text></g>
<circle cx="212.0" cy="447.9" r="24.2" fill="#F4EA6A" stroke="#44411d" stroke-width="1.9"/>
<g transform="translate(213.40 459.20) scale(0.850 1)" font-size="31.50" font-weight="700" fill="#0a0a0a" stroke="#0a0a0a" stroke-width="0.45" style="white-space:pre"><use href="#one" transform="translate(-17.51 0) scale(0.01538 -0.01538)" stroke-width="29.3"/><text x="0.00" y="0">5</text></g>
<circle cx="284.5" cy="430.9" r="24.2" fill="#DAE25E" stroke="#3d3f1a" stroke-width="1.9"/>
<g transform="translate(285.20 442.20) scale(0.850 1)" font-size="31.50" font-weight="700" fill="#0a0a0a" stroke="#0a0a0a" stroke-width="0.45" style="white-space:pre"><use href="#one" transform="translate(-17.51 0) scale(0.01538 -0.01538)" stroke-width="29.3"/><text x="0.00" y="0">4</text></g>
<circle cx="290.8" cy="480.2" r="24.2" fill="#F4EA6A" stroke="#44411d" stroke-width="1.9"/>
<g transform="translate(292.15 491.50) scale(0.850 1)" font-size="31.50" font-weight="700" fill="#0a0a0a" stroke="#0a0a0a" stroke-width="0.45" style="white-space:pre"><use href="#one" transform="translate(-17.51 0) scale(0.01538 -0.01538)" stroke-width="29.3"/><text x="0.00" y="0">5</text></g>
<circle cx="156.7" cy="483.0" r="24.2" fill="#F4DC60" stroke="#443d1a" stroke-width="1.9"/>
<g transform="translate(158.10 494.30) scale(0.850 1)" font-size="31.50" font-weight="700" fill="#0a0a0a" stroke="#0a0a0a" stroke-width="0.45" style="white-space:pre"><use href="#one" transform="translate(-17.51 0) scale(0.01538 -0.01538)" stroke-width="29.3"/><text x="0.00" y="0">6</text></g>
<circle cx="52.7" cy="502.4" r="24.2" fill="#F4EA6A" stroke="#44411d" stroke-width="1.9"/>
<g transform="translate(54.10 513.70) scale(0.850 1)" font-size="31.50" font-weight="700" fill="#0a0a0a" stroke="#0a0a0a" stroke-width="0.45" style="white-space:pre"><use href="#one" transform="translate(-17.51 0) scale(0.01538 -0.01538)" stroke-width="29.3"/><text x="0.00" y="0">5</text></g>
<circle cx="107.6" cy="512.4" r="24.2" fill="#F4DC60" stroke="#443d1a" stroke-width="1.9"/>
<g transform="translate(109.00 523.70) scale(0.850 1)" font-size="31.50" font-weight="700" fill="#0a0a0a" stroke="#0a0a0a" stroke-width="0.45" style="white-space:pre"><use href="#one" transform="translate(-17.51 0) scale(0.01538 -0.01538)" stroke-width="29.3"/><text x="0.00" y="0">6</text></g>
<circle cx="180.0" cy="545.6" r="24.2" fill="#F4DC60" stroke="#443d1a" stroke-width="1.9"/>
<g transform="translate(181.40 556.90) scale(0.850 1)" font-size="31.50" font-weight="700" fill="#0a0a0a" stroke="#0a0a0a" stroke-width="0.45" style="white-space:pre"><use href="#one" transform="translate(-17.51 0) scale(0.01538 -0.01538)" stroke-width="29.3"/><text x="0.00" y="0">6</text></g>
<circle cx="226.6" cy="524.6" r="24.2" fill="#F4DC60" stroke="#443d1a" stroke-width="1.9"/>
<g transform="translate(228.00 535.90) scale(0.850 1)" font-size="31.50" font-weight="700" fill="#0a0a0a" stroke="#0a0a0a" stroke-width="0.45" style="white-space:pre"><use href="#one" transform="translate(-17.51 0) scale(0.01538 -0.01538)" stroke-width="29.3"/><text x="0.00" y="0">6</text></g>
<circle cx="59.8" cy="546.4" r="24.2" fill="#F4EA6A" stroke="#44411d" stroke-width="1.9"/>
<g transform="translate(61.20 557.70) scale(0.850 1)" font-size="31.50" font-weight="700" fill="#0a0a0a" stroke="#0a0a0a" stroke-width="0.45" style="white-space:pre"><use href="#one" transform="translate(-17.51 0) scale(0.01538 -0.01538)" stroke-width="29.3"/><text x="0.00" y="0">5</text></g>
<circle cx="95.3" cy="575.4" r="24.2" fill="#F4DC60" stroke="#443d1a" stroke-width="1.9"/>
<g transform="translate(96.70 586.70) scale(0.850 1)" font-size="31.50" font-weight="700" fill="#0a0a0a" stroke="#0a0a0a" stroke-width="0.45" style="white-space:pre"><use href="#one" transform="translate(-17.51 0) scale(0.01538 -0.01538)" stroke-width="29.3"/><text x="0.00" y="0">6</text></g>
<circle cx="221.0" cy="579.4" r="24.2" fill="#F4DC60" stroke="#443d1a" stroke-width="1.9"/>
<g transform="translate(222.40 590.70) scale(0.850 1)" font-size="31.50" font-weight="700" fill="#0a0a0a" stroke="#0a0a0a" stroke-width="0.45" style="white-space:pre"><use href="#one" transform="translate(-17.51 0) scale(0.01538 -0.01538)" stroke-width="29.3"/><text x="0.00" y="0">6</text></g>
<circle cx="270.1" cy="569.4" r="24.2" fill="#F4DC60" stroke="#443d1a" stroke-width="1.9"/>
<g transform="translate(271.50 580.70) scale(0.850 1)" font-size="31.50" font-weight="700" fill="#0a0a0a" stroke="#0a0a0a" stroke-width="0.45" style="white-space:pre"><use href="#one" transform="translate(-17.51 0) scale(0.01538 -0.01538)" stroke-width="29.3"/><text x="0.00" y="0">6</text></g>
<circle cx="171.5" cy="616.4" r="24.2" fill="#F4DC60" stroke="#443d1a" stroke-width="1.9"/>
<g transform="translate(172.90 627.70) scale(0.850 1)" font-size="31.50" font-weight="700" fill="#0a0a0a" stroke="#0a0a0a" stroke-width="0.45" style="white-space:pre"><use href="#one" transform="translate(-17.51 0) scale(0.01538 -0.01538)" stroke-width="29.3"/><text x="0.00" y="0">6</text></g>
<circle cx="132.5" cy="597.9" r="24.2" fill="#F4DC60" stroke="#443d1a" stroke-width="1.9"/>
<g transform="translate(133.90 609.20) scale(0.850 1)" font-size="31.50" font-weight="700" fill="#0a0a0a" stroke="#0a0a0a" stroke-width="0.45" style="white-space:pre"><use href="#one" transform="translate(-17.51 0) scale(0.01538 -0.01538)" stroke-width="29.3"/><text x="0.00" y="0">6</text></g>
<circle cx="262.0" cy="622.4" r="24.2" fill="#F2D25A" stroke="#433a19" stroke-width="1.9"/>
<g transform="translate(263.40 633.70) scale(0.850 1)" font-size="31.50" font-weight="700" fill="#0a0a0a" stroke="#0a0a0a" stroke-width="0.45" style="white-space:pre"><use href="#one" transform="translate(-17.51 0) scale(0.01538 -0.01538)" stroke-width="29.3"/><text x="0.00" y="0">7</text></g>
<circle cx="214.0" cy="626.4" r="24.2" fill="#F4DC60" stroke="#443d1a" stroke-width="1.9"/>
<g transform="translate(215.40 637.70) scale(0.850 1)" font-size="31.50" font-weight="700" fill="#0a0a0a" stroke="#0a0a0a" stroke-width="0.45" style="white-space:pre"><use href="#one" transform="translate(-17.51 0) scale(0.01538 -0.01538)" stroke-width="29.3"/><text x="0.00" y="0">6</text></g>
<circle cx="199.9" cy="664.7" r="24.2" fill="#C7DC55" stroke="#373d17" stroke-width="1.9"/>
<g transform="translate(201.30 676.00) scale(0.850 1)" font-size="31.50" font-weight="700" fill="#0a0a0a" stroke="#0a0a0a" stroke-width="0.45" style="white-space:pre"><use href="#one" transform="translate(-17.51 0) scale(0.01538 -0.01538)" stroke-width="29.3"/><text x="0.00" y="0">3</text></g>
</g>
<text x="727.89" y="338.5" font-size="30.6" font-weight="700" fill="#252735">Tydzień</text>
<g transform="translate(865.27 338.50) scale(1.000 1)" font-size="30.65" font-weight="700" fill="#252735" style="white-space:pre"><text x="-17.04" y="0">20</text></g>
<g transform="translate(805.10 372.30) scale(1.000 1)" font-size="30.65" font-weight="700" fill="#252735" style="white-space:pre"><use href="#one" transform="translate(-89.31 0) scale(0.01497 -0.01497)"/><use href="#one" transform="translate(-74.26 0) scale(0.01497 -0.01497)"/><text x="-57.22" y="0">.05 - </text><use href="#one" transform="translate(12.63 0) scale(0.01497 -0.01497)"/><text x="29.67" y="0">7.05</text></g>
<g transform="translate(632.90 0)">
<use href="#pl" fill="#fff" stroke="#66666e" stroke-width="1.2" stroke-linejoin="round" filter="url(#sh)"/>
<use href="#inb"/>
<circle cx="40.0" cy="454.1" r="24.2" fill="#F2D25A" stroke="#433a19" stroke-width="1.9"/>
<g transform="translate(41.40 465.45) scale(0.850 1)" font-size="31.50" font-weight="700" fill="#0a0a0a" stroke="#0a0a0a" stroke-width="0.45" style="white-space:pre"><use href="#one" transform="translate(-17.51 0) scale(0.01538 -0.01538)" stroke-width="29.3"/><text x="0.00" y="0">7</text></g>
<circle cx="85.3" cy="427.4" r="24.2" fill="#DAE25E" stroke="#3d3f1a" stroke-width="1.9"/>
<g transform="translate(86.00 438.70) scale(0.850 1)" font-size="31.50" font-weight="700" fill="#0a0a0a" stroke="#0a0a0a" stroke-width="0.45" style="white-space:pre"><use href="#one" transform="translate(-17.51 0) scale(0.01538 -0.01538)" stroke-width="29.3"/><text x="0.00" y="0">4</text></g>
<circle cx="159.6" cy="417.9" r="24.2" fill="#C7DC55" stroke="#373d17" stroke-width="1.9"/>
<g transform="translate(161.00 429.20) scale(0.850 1)" font-size="31.50" font-weight="700" fill="#0a0a0a" stroke="#0a0a0a" stroke-width="0.45" style="white-space:pre"><use href="#one" transform="translate(-17.51 0) scale(0.01538 -0.01538)" stroke-width="29.3"/><text x="0.00" y="0">3</text></g>
<circle cx="212.0" cy="447.9" r="24.2" fill="#F4DC60" stroke="#443d1a" stroke-width="1.9"/>
<g transform="translate(213.40 459.20) scale(0.850 1)" font-size="31.50" font-weight="700" fill="#0a0a0a" stroke="#0a0a0a" stroke-width="0.45" style="white-space:pre"><use href="#one" transform="translate(-17.51 0) scale(0.01538 -0.01538)" stroke-width="29.3"/><text x="0.00" y="0">6</text></g>
<circle cx="284.5" cy="430.9" r="24.2" fill="#F4DC60" stroke="#443d1a" stroke-width="1.9"/>
<g transform="translate(285.90 442.20) scale(0.850 1)" font-size="31.50" font-weight="700" fill="#0a0a0a" stroke="#0a0a0a" stroke-width="0.45" style="white-space:pre"><use href="#one" transform="translate(-17.51 0) scale(0.01538 -0.01538)" stroke-width="29.3"/><text x="0.00" y="0">6</text></g>
<circle cx="290.8" cy="480.2" r="24.2" fill="#F0C856" stroke="#433818" stroke-width="1.9"/>
<g transform="translate(292.15 491.50) scale(0.850 1)" font-size="31.50" font-weight="700" fill="#0a0a0a" stroke="#0a0a0a" stroke-width="0.45" style="white-space:pre"><use href="#one" transform="translate(-17.51 0) scale(0.01538 -0.01538)" stroke-width="29.3"/><text x="0.00" y="0">8</text></g>
<circle cx="156.7" cy="483.0" r="24.2" fill="#F2D25A" stroke="#433a19" stroke-width="1.9"/>
<g transform="translate(158.10 494.30) scale(0.850 1)" font-size="31.50" font-weight="700" fill="#0a0a0a" stroke="#0a0a0a" stroke-width="0.45" style="white-space:pre"><use href="#one" transform="translate(-17.51 0) scale(0.01538 -0.01538)" stroke-width="29.3"/><text x="0.00" y="0">7</text></g>
<circle cx="52.7" cy="502.4" r="24.2" fill="#F2D25A" stroke="#433a19" stroke-width="1.9"/>
<g transform="translate(54.10 513.70) scale(0.850 1)" font-size="31.50" font-weight="700" fill="#0a0a0a" stroke="#0a0a0a" stroke-width="0.45" style="white-space:pre"><use href="#one" transform="translate(-17.51 0) scale(0.01538 -0.01538)" stroke-width="29.3"/><text x="0.00" y="0">7</text></g>
<circle cx="107.6" cy="512.4" r="24.2" fill="#F0C856" stroke="#433818" stroke-width="1.9"/>
<g transform="translate(109.00 523.70) scale(0.850 1)" font-size="31.50" font-weight="700" fill="#0a0a0a" stroke="#0a0a0a" stroke-width="0.45" style="white-space:pre"><use href="#one" transform="translate(-17.51 0) scale(0.01538 -0.01538)" stroke-width="29.3"/><text x="0.00" y="0">8</text></g>
<circle cx="180.0" cy="545.6" r="24.2" fill="#F2D25A" stroke="#433a19" stroke-width="1.9"/>
<g transform="translate(181.40 556.90) scale(0.850 1)" font-size="31.50" font-weight="700" fill="#0a0a0a" stroke="#0a0a0a" stroke-width="0.45" style="white-space:pre"><use href="#one" transform="translate(-17.51 0) scale(0.01538 -0.01538)" stroke-width="29.3"/><text x="0.00" y="0">7</text></g>
<circle cx="226.6" cy="524.6" r="24.2" fill="#F0C856" stroke="#433818" stroke-width="1.9"/>
<g transform="translate(228.00 535.90) scale(0.850 1)" font-size="31.50" font-weight="700" fill="#0a0a0a" stroke="#0a0a0a" stroke-width="0.45" style="white-space:pre"><use href="#one" transform="translate(-17.51 0) scale(0.01538 -0.01538)" stroke-width="29.3"/><text x="0.00" y="0">8</text></g>
<circle cx="59.8" cy="546.4" r="24.2" fill="#F2D25A" stroke="#433a19" stroke-width="1.9"/>
<g transform="translate(61.20 557.70) scale(0.850 1)" font-size="31.50" font-weight="700" fill="#0a0a0a" stroke="#0a0a0a" stroke-width="0.45" style="white-space:pre"><use href="#one" transform="translate(-17.51 0) scale(0.01538 -0.01538)" stroke-width="29.3"/><text x="0.00" y="0">7</text></g>
<circle cx="95.3" cy="575.4" r="24.2" fill="#F0C856" stroke="#433818" stroke-width="1.9"/>
<g transform="translate(96.70 586.70) scale(0.850 1)" font-size="31.50" font-weight="700" fill="#0a0a0a" stroke="#0a0a0a" stroke-width="0.45" style="white-space:pre"><use href="#one" transform="translate(-17.51 0) scale(0.01538 -0.01538)" stroke-width="29.3"/><text x="0.00" y="0">8</text></g>
<circle cx="221.0" cy="579.4" r="24.2" fill="#F0C856" stroke="#433818" stroke-width="1.9"/>
<g transform="translate(222.40 590.70) scale(0.850 1)" font-size="31.50" font-weight="700" fill="#0a0a0a" stroke="#0a0a0a" stroke-width="0.45" style="white-space:pre"><use href="#one" transform="translate(-17.51 0) scale(0.01538 -0.01538)" stroke-width="29.3"/><text x="0.00" y="0">8</text></g>
<circle cx="270.1" cy="569.4" r="24.2" fill="#F0C856" stroke="#433818" stroke-width="1.9"/>
<g transform="translate(271.50 580.70) scale(0.850 1)" font-size="31.50" font-weight="700" fill="#0a0a0a" stroke="#0a0a0a" stroke-width="0.45" style="white-space:pre"><use href="#one" transform="translate(-17.51 0) scale(0.01538 -0.01538)" stroke-width="29.3"/><text x="0.00" y="0">8</text></g>
<circle cx="171.5" cy="616.4" r="24.2" fill="#F0C856" stroke="#433818" stroke-width="1.9"/>
<g transform="translate(172.90 627.70) scale(0.850 1)" font-size="31.50" font-weight="700" fill="#0a0a0a" stroke="#0a0a0a" stroke-width="0.45" style="white-space:pre"><use href="#one" transform="translate(-17.51 0) scale(0.01538 -0.01538)" stroke-width="29.3"/><text x="0.00" y="0">8</text></g>
<circle cx="132.5" cy="597.9" r="24.2" fill="#F0C856" stroke="#433818" stroke-width="1.9"/>
<g transform="translate(133.90 609.20) scale(0.850 1)" font-size="31.50" font-weight="700" fill="#0a0a0a" stroke="#0a0a0a" stroke-width="0.45" style="white-space:pre"><use href="#one" transform="translate(-17.51 0) scale(0.01538 -0.01538)" stroke-width="29.3"/><text x="0.00" y="0">8</text></g>
<circle cx="262.0" cy="622.4" r="24.2" fill="#EDC04A" stroke="#423514" stroke-width="1.9"/>
<g transform="translate(263.40 633.70) scale(0.850 1)" font-size="31.50" font-weight="700" fill="#0a0a0a" stroke="#0a0a0a" stroke-width="0.45" style="white-space:pre"><use href="#one" transform="translate(-17.51 0) scale(0.01538 -0.01538)" stroke-width="29.3"/><text x="0.00" y="0">9</text></g>
<circle cx="214.0" cy="626.4" r="24.2" fill="#F0C856" stroke="#433818" stroke-width="1.9"/>
<g transform="translate(215.40 637.70) scale(0.850 1)" font-size="31.50" font-weight="700" fill="#0a0a0a" stroke="#0a0a0a" stroke-width="0.45" style="white-space:pre"><use href="#one" transform="translate(-17.51 0) scale(0.01538 -0.01538)" stroke-width="29.3"/><text x="0.00" y="0">8</text></g>
<circle cx="199.9" cy="664.7" r="24.2" fill="#DAE25E" stroke="#3d3f1a" stroke-width="1.9"/>
<g transform="translate(200.60 676.00) scale(0.850 1)" font-size="31.50" font-weight="700" fill="#0a0a0a" stroke="#0a0a0a" stroke-width="0.45" style="white-space:pre"><use href="#one" transform="translate(-17.51 0) scale(0.01538 -0.01538)" stroke-width="29.3"/><text x="0.00" y="0">4</text></g>
</g>
<text x="1044.34" y="338.5" font-size="30.6" font-weight="700" fill="#252735">Tydzień</text>
<g transform="translate(1181.72 338.50) scale(1.000 1)" font-size="30.65" font-weight="700" fill="#252735" style="white-space:pre"><text x="-17.04" y="0">2</text><use href="#one" transform="translate(0.00 0) scale(0.01497 -0.01497)"/></g>
<g transform="translate(1121.55 372.30) scale(1.000 1)" font-size="30.65" font-weight="700" fill="#252735" style="white-space:pre"><use href="#one" transform="translate(-90.31 0) scale(0.01497 -0.01497)"/><text x="-73.27" y="0">8.05 - 24.05</text></g>
<g transform="translate(949.35 0)">
<use href="#pl" fill="#fff" stroke="#66666e" stroke-width="1.2" stroke-linejoin="round" filter="url(#sh)"/>
<use href="#inb"/>
<circle cx="40.0" cy="454.1" r="24.2" fill="#F0C856" stroke="#433818" stroke-width="1.9"/>
<g transform="translate(41.40 465.45) scale(0.850 1)" font-size="31.50" font-weight="700" fill="#0a0a0a" stroke="#0a0a0a" stroke-width="0.45" style="white-space:pre"><use href="#one" transform="translate(-17.51 0) scale(0.01538 -0.01538)" stroke-width="29.3"/><text x="0.00" y="0">8</text></g>
<circle cx="85.3" cy="427.4" r="24.2" fill="#F4EA6A" stroke="#44411d" stroke-width="1.9"/>
<g transform="translate(86.70 438.70) scale(0.850 1)" font-size="31.50" font-weight="700" fill="#0a0a0a" stroke="#0a0a0a" stroke-width="0.45" style="white-space:pre"><use href="#one" transform="translate(-17.51 0) scale(0.01538 -0.01538)" stroke-width="29.3"/><text x="0.00" y="0">5</text></g>
<circle cx="159.6" cy="417.9" r="24.2" fill="#DAE25E" stroke="#3d3f1a" stroke-width="1.9"/>
<g transform="translate(160.30 429.20) scale(0.850 1)" font-size="31.50" font-weight="700" fill="#0a0a0a" stroke="#0a0a0a" stroke-width="0.45" style="white-space:pre"><use href="#one" transform="translate(-17.51 0) scale(0.01538 -0.01538)" stroke-width="29.3"/><text x="0.00" y="0">4</text></g>
<circle cx="212.0" cy="447.9" r="24.2" fill="#F0C856" stroke="#433818" stroke-width="1.9"/>
<g transform="translate(213.40 459.20) scale(0.850 1)" font-size="31.50" font-weight="700" fill="#0a0a0a" stroke="#0a0a0a" stroke-width="0.45" style="white-space:pre"><use href="#one" transform="translate(-17.51 0) scale(0.01538 -0.01538)" stroke-width="29.3"/><text x="0.00" y="0">8</text></g>
<circle cx="284.5" cy="430.9" r="24.2" fill="#F2D25A" stroke="#433a19" stroke-width="1.9"/>
<g transform="translate(285.90 442.20) scale(0.850 1)" font-size="31.50" font-weight="700" fill="#0a0a0a" stroke="#0a0a0a" stroke-width="0.45" style="white-space:pre"><use href="#one" transform="translate(-17.51 0) scale(0.01538 -0.01538)" stroke-width="29.3"/><text x="0.00" y="0">7</text></g>
<circle cx="290.8" cy="480.2" r="24.2" fill="#F0C856" stroke="#433818" stroke-width="1.9"/>
<g transform="translate(292.15 491.50) scale(0.850 1)" font-size="31.50" font-weight="700" fill="#0a0a0a" stroke="#0a0a0a" stroke-width="0.45" style="white-space:pre"><use href="#one" transform="translate(-17.51 0) scale(0.01538 -0.01538)" stroke-width="29.3"/><text x="0.00" y="0">8</text></g>
<circle cx="156.7" cy="483.0" r="24.2" fill="#F0C856" stroke="#433818" stroke-width="1.9"/>
<g transform="translate(158.10 494.30) scale(0.850 1)" font-size="31.50" font-weight="700" fill="#0a0a0a" stroke="#0a0a0a" stroke-width="0.45" style="white-space:pre"><use href="#one" transform="translate(-17.51 0) scale(0.01538 -0.01538)" stroke-width="29.3"/><text x="0.00" y="0">8</text></g>
<circle cx="52.7" cy="502.4" r="24.2" fill="#F0C856" stroke="#433818" stroke-width="1.9"/>
<g transform="translate(54.10 513.70) scale(0.850 1)" font-size="31.50" font-weight="700" fill="#0a0a0a" stroke="#0a0a0a" stroke-width="0.45" style="white-space:pre"><use href="#one" transform="translate(-17.51 0) scale(0.01538 -0.01538)" stroke-width="29.3"/><text x="0.00" y="0">8</text></g>
<circle cx="107.6" cy="512.4" r="24.2" fill="#F0C856" stroke="#433818" stroke-width="1.9"/>
<g transform="translate(109.00 523.70) scale(0.850 1)" font-size="31.50" font-weight="700" fill="#0a0a0a" stroke="#0a0a0a" stroke-width="0.45" style="white-space:pre"><use href="#one" transform="translate(-17.51 0) scale(0.01538 -0.01538)" stroke-width="29.3"/><text x="0.00" y="0">8</text></g>
<circle cx="180.0" cy="545.6" r="24.2" fill="#F0C856" stroke="#433818" stroke-width="1.9"/>
<g transform="translate(181.40 556.90) scale(0.850 1)" font-size="31.50" font-weight="700" fill="#0a0a0a" stroke="#0a0a0a" stroke-width="0.45" style="white-space:pre"><use href="#one" transform="translate(-17.51 0) scale(0.01538 -0.01538)" stroke-width="29.3"/><text x="0.00" y="0">8</text></g>
<circle cx="226.6" cy="524.6" r="24.2" fill="#EDC04A" stroke="#423514" stroke-width="1.9"/>
<g transform="translate(228.00 535.90) scale(0.850 1)" font-size="31.50" font-weight="700" fill="#0a0a0a" stroke="#0a0a0a" stroke-width="0.45" style="white-space:pre"><use href="#one" transform="translate(-17.51 0) scale(0.01538 -0.01538)" stroke-width="29.3"/><text x="0.00" y="0">9</text></g>
<circle cx="59.8" cy="546.4" r="24.2" fill="#F0C856" stroke="#433818" stroke-width="1.9"/>
<g transform="translate(61.20 557.70) scale(0.850 1)" font-size="31.50" font-weight="700" fill="#0a0a0a" stroke="#0a0a0a" stroke-width="0.45" style="white-space:pre"><use href="#one" transform="translate(-17.51 0) scale(0.01538 -0.01538)" stroke-width="29.3"/><text x="0.00" y="0">8</text></g>
<circle cx="95.3" cy="575.4" r="24.2" fill="#EDC04A" stroke="#423514" stroke-width="1.9"/>
<g transform="translate(96.70 586.70) scale(0.850 1)" font-size="31.50" font-weight="700" fill="#0a0a0a" stroke="#0a0a0a" stroke-width="0.45" style="white-space:pre"><use href="#one" transform="translate(-17.51 0) scale(0.01538 -0.01538)" stroke-width="29.3"/><text x="0.00" y="0">9</text></g>
<circle cx="221.0" cy="579.4" r="24.2" fill="#F0C856" stroke="#433818" stroke-width="1.9"/>
<g transform="translate(222.40 590.70) scale(0.850 1)" font-size="31.50" font-weight="700" fill="#0a0a0a" stroke="#0a0a0a" stroke-width="0.45" style="white-space:pre"><use href="#one" transform="translate(-17.51 0) scale(0.01538 -0.01538)" stroke-width="29.3"/><text x="0.00" y="0">8</text></g>
<circle cx="270.1" cy="569.4" r="24.2" fill="#F0C856" stroke="#433818" stroke-width="1.9"/>
<g transform="translate(271.50 580.70) scale(0.850 1)" font-size="31.50" font-weight="700" fill="#0a0a0a" stroke="#0a0a0a" stroke-width="0.45" style="white-space:pre"><use href="#one" transform="translate(-17.51 0) scale(0.01538 -0.01538)" stroke-width="29.3"/><text x="0.00" y="0">8</text></g>
<circle cx="171.5" cy="616.4" r="24.2" fill="#F0C856" stroke="#433818" stroke-width="1.9"/>
<g transform="translate(172.90 627.70) scale(0.850 1)" font-size="31.50" font-weight="700" fill="#0a0a0a" stroke="#0a0a0a" stroke-width="0.45" style="white-space:pre"><use href="#one" transform="translate(-17.51 0) scale(0.01538 -0.01538)" stroke-width="29.3"/><text x="0.00" y="0">8</text></g>
<circle cx="132.5" cy="597.9" r="24.2" fill="#EDC04A" stroke="#423514" stroke-width="1.9"/>
<g transform="translate(133.90 609.20) scale(0.850 1)" font-size="31.50" font-weight="700" fill="#0a0a0a" stroke="#0a0a0a" stroke-width="0.45" style="white-space:pre"><use href="#one" transform="translate(-17.51 0) scale(0.01538 -0.01538)" stroke-width="29.3"/><text x="0.00" y="0">9</text></g>
<circle cx="262.0" cy="622.4" r="24.2" fill="#EDC04A" stroke="#423514" stroke-width="1.9"/>
<g transform="translate(263.40 633.70) scale(0.850 1)" font-size="31.50" font-weight="700" fill="#0a0a0a" stroke="#0a0a0a" stroke-width="0.45" style="white-space:pre"><use href="#one" transform="translate(-17.51 0) scale(0.01538 -0.01538)" stroke-width="29.3"/><text x="0.00" y="0">9</text></g>
<circle cx="214.0" cy="626.4" r="24.2" fill="#EDC04A" stroke="#423514" stroke-width="1.9"/>
<g transform="translate(215.40 637.70) scale(0.850 1)" font-size="31.50" font-weight="700" fill="#0a0a0a" stroke="#0a0a0a" stroke-width="0.45" style="white-space:pre"><use href="#one" transform="translate(-17.51 0) scale(0.01538 -0.01538)" stroke-width="29.3"/><text x="0.00" y="0">9</text></g>
<circle cx="199.9" cy="664.7" r="24.2" fill="#F4EA6A" stroke="#44411d" stroke-width="1.9"/>
<g transform="translate(201.30 676.00) scale(0.850 1)" font-size="31.50" font-weight="700" fill="#0a0a0a" stroke="#0a0a0a" stroke-width="0.45" style="white-space:pre"><use href="#one" transform="translate(-17.51 0) scale(0.01538 -0.01538)" stroke-width="29.3"/><text x="0.00" y="0">5</text></g>
</g>
<text x="1360.79" y="338.5" font-size="30.6" font-weight="700" fill="#252735">Tydzień</text>
<g transform="translate(1498.17 338.50) scale(1.000 1)" font-size="30.65" font-weight="700" fill="#252735" style="white-space:pre"><text x="-17.04" y="0">22</text></g>
<g transform="translate(1438.00 372.30) scale(1.000 1)" font-size="30.65" font-weight="700" fill="#252735" style="white-space:pre"><text x="-90.31" y="0">25.05 - 3</text><use href="#one" transform="translate(30.67 0) scale(0.01497 -0.01497)"/><text x="47.71" y="0">.05</text></g>
<g transform="translate(1265.80 0)">
<use href="#pl" fill="#fff" stroke="#66666e" stroke-width="1.2" stroke-linejoin="round" filter="url(#sh)"/>
<use href="#inb"/>
<circle cx="40.0" cy="454.1" r="24.2" fill="#EDC04A" stroke="#423514" stroke-width="1.9"/>
<g transform="translate(41.40 465.45) scale(0.850 1)" font-size="31.50" font-weight="700" fill="#0a0a0a" stroke="#0a0a0a" stroke-width="0.45" style="white-space:pre"><use href="#one" transform="translate(-17.51 0) scale(0.01538 -0.01538)" stroke-width="29.3"/><text x="0.00" y="0">9</text></g>
<circle cx="85.3" cy="427.4" r="24.2" fill="#F4DC60" stroke="#443d1a" stroke-width="1.9"/>
<g transform="translate(86.70 438.70) scale(0.850 1)" font-size="31.50" font-weight="700" fill="#0a0a0a" stroke="#0a0a0a" stroke-width="0.45" style="white-space:pre"><use href="#one" transform="translate(-17.51 0) scale(0.01538 -0.01538)" stroke-width="29.3"/><text x="0.00" y="0">6</text></g>
<circle cx="159.6" cy="417.9" r="24.2" fill="#F4EA6A" stroke="#44411d" stroke-width="1.9"/>
<g transform="translate(161.00 429.20) scale(0.850 1)" font-size="31.50" font-weight="700" fill="#0a0a0a" stroke="#0a0a0a" stroke-width="0.45" style="white-space:pre"><use href="#one" transform="translate(-17.51 0) scale(0.01538 -0.01538)" stroke-width="29.3"/><text x="0.00" y="0">5</text></g>
<circle cx="212.0" cy="447.9" r="24.2" fill="#F0C856" stroke="#433818" stroke-width="1.9"/>
<g transform="translate(213.40 459.20) scale(0.850 1)" font-size="31.50" font-weight="700" fill="#0a0a0a" stroke="#0a0a0a" stroke-width="0.45" style="white-space:pre"><use href="#one" transform="translate(-17.51 0) scale(0.01538 -0.01538)" stroke-width="29.3"/><text x="0.00" y="0">8</text></g>
<circle cx="284.5" cy="430.9" r="24.2" fill="#F0C856" stroke="#433818" stroke-width="1.9"/>
<g transform="translate(285.90 442.20) scale(0.850 1)" font-size="31.50" font-weight="700" fill="#0a0a0a" stroke="#0a0a0a" stroke-width="0.45" style="white-space:pre"><use href="#one" transform="translate(-17.51 0) scale(0.01538 -0.01538)" stroke-width="29.3"/><text x="0.00" y="0">8</text></g>
<circle cx="290.8" cy="480.2" r="24.2" fill="#FAA91F" stroke="#462f08" stroke-width="1.9"/>
<g transform="translate(291.75 491.50) scale(0.850 1)" font-size="31.50" font-weight="700" fill="#0a0a0a" stroke="#0a0a0a" stroke-width="0.45" style="white-space:pre"><text x="-17.51" y="0">20</text></g>
<circle cx="156.7" cy="483.0" r="24.2" fill="#FAA91F" stroke="#462f08" stroke-width="1.9"/>
<g transform="translate(157.70 494.30) scale(0.850 1)" font-size="31.50" font-weight="700" fill="#0a0a0a" stroke="#0a0a0a" stroke-width="0.45" style="white-space:pre"><text x="-17.51" y="0">20</text></g>
<circle cx="52.7" cy="502.4" r="24.2" fill="#EDC04A" stroke="#423514" stroke-width="1.9"/>
<g transform="translate(54.10 513.70) scale(0.850 1)" font-size="31.50" font-weight="700" fill="#0a0a0a" stroke="#0a0a0a" stroke-width="0.45" style="white-space:pre"><use href="#one" transform="translate(-17.51 0) scale(0.01538 -0.01538)" stroke-width="29.3"/><text x="0.00" y="0">9</text></g>
<circle cx="107.6" cy="512.4" r="24.2" fill="#FAA91F" stroke="#462f08" stroke-width="1.9"/>
<g transform="translate(108.60 523.70) scale(0.850 1)" font-size="31.50" font-weight="700" fill="#0a0a0a" stroke="#0a0a0a" stroke-width="0.45" style="white-space:pre"><text x="-17.51" y="0">20</text></g>
<circle cx="180.0" cy="545.6" r="24.2" fill="#FAA91F" stroke="#462f08" stroke-width="1.9"/>
<g transform="translate(181.00 556.90) scale(0.850 1)" font-size="31.50" font-weight="700" fill="#0a0a0a" stroke="#0a0a0a" stroke-width="0.45" style="white-space:pre"><text x="-17.51" y="0">20</text></g>
<circle cx="226.6" cy="524.6" r="24.2" fill="#FAA91F" stroke="#462f08" stroke-width="1.9"/>
<g transform="translate(227.60 535.90) scale(0.850 1)" font-size="31.50" font-weight="700" fill="#0a0a0a" stroke="#0a0a0a" stroke-width="0.45" style="white-space:pre"><text x="-17.51" y="0">20</text></g>
<circle cx="59.8" cy="546.4" r="24.2" fill="#EDC04A" stroke="#423514" stroke-width="1.9"/>
<g transform="translate(61.20 557.70) scale(0.850 1)" font-size="31.50" font-weight="700" fill="#0a0a0a" stroke="#0a0a0a" stroke-width="0.45" style="white-space:pre"><use href="#one" transform="translate(-17.51 0) scale(0.01538 -0.01538)" stroke-width="29.3"/><text x="0.00" y="0">9</text></g>
<circle cx="95.3" cy="575.4" r="24.2" fill="#FAA91F" stroke="#462f08" stroke-width="1.9"/>
<g transform="translate(96.30 586.70) scale(0.850 1)" font-size="31.50" font-weight="700" fill="#0a0a0a" stroke="#0a0a0a" stroke-width="0.45" style="white-space:pre"><text x="-17.51" y="0">20</text></g>
<circle cx="221.0" cy="579.4" r="24.2" fill="#FAA91F" stroke="#462f08" stroke-width="1.9"/>
<g transform="translate(222.00 590.70) scale(0.850 1)" font-size="31.50" font-weight="700" fill="#0a0a0a" stroke="#0a0a0a" stroke-width="0.45" style="white-space:pre"><text x="-17.51" y="0">20</text></g>
<circle cx="270.1" cy="569.4" r="24.2" fill="#FAA91F" stroke="#462f08" stroke-width="1.9"/>
<g transform="translate(271.10 580.70) scale(0.850 1)" font-size="31.50" font-weight="700" fill="#0a0a0a" stroke="#0a0a0a" stroke-width="0.45" style="white-space:pre"><text x="-17.51" y="0">20</text></g>
<circle cx="171.5" cy="616.4" r="24.2" fill="#FAA91F" stroke="#462f08" stroke-width="1.9"/>
<g transform="translate(172.50 627.70) scale(0.850 1)" font-size="31.50" font-weight="700" fill="#0a0a0a" stroke="#0a0a0a" stroke-width="0.45" style="white-space:pre"><text x="-17.51" y="0">20</text></g>
<circle cx="132.5" cy="597.9" r="24.2" fill="#FAA91F" stroke="#462f08" stroke-width="1.9"/>
<g transform="translate(133.50 609.20) scale(0.850 1)" font-size="31.50" font-weight="700" fill="#0a0a0a" stroke="#0a0a0a" stroke-width="0.45" style="white-space:pre"><text x="-17.51" y="0">20</text></g>
<circle cx="262.0" cy="622.4" r="24.2" fill="#F89A12" stroke="#452b05" stroke-width="1.9"/>
<g transform="translate(263.00 633.70) scale(0.850 1)" font-size="31.50" font-weight="700" fill="#0a0a0a" stroke="#0a0a0a" stroke-width="0.45" style="white-space:pre"><text x="-17.51" y="0">2</text><use href="#one" transform="translate(0.00 0) scale(0.01538 -0.01538)" stroke-width="29.3"/></g>
<circle cx="214.0" cy="626.4" r="24.2" fill="#FAA91F" stroke="#462f08" stroke-width="1.9"/>
<g transform="translate(215.00 637.70) scale(0.850 1)" font-size="31.50" font-weight="700" fill="#0a0a0a" stroke="#0a0a0a" stroke-width="0.45" style="white-space:pre"><text x="-17.51" y="0">20</text></g>
<circle cx="199.9" cy="664.7" r="24.2" fill="#F2D25A" stroke="#433a19" stroke-width="1.9"/>
<g transform="translate(201.30 676.00) scale(0.850 1)" font-size="31.50" font-weight="700" fill="#0a0a0a" stroke="#0a0a0a" stroke-width="0.45" style="white-space:pre"><use href="#one" transform="translate(-17.51 0) scale(0.01538 -0.01538)" stroke-width="29.3"/><text x="0.00" y="0">7</text></g>
</g>
<text x="24" y="735" font-size="18.45" fill="#2a2a33">This service is based on data and products of the European Centre for Medium-Range Weather Forecasts (ECMWF)</text>
<text x="1577" y="735" font-size="26.1" font-style="italic" fill="#252735" text-anchor="end">Wizualizacja danych: dr Alan Mandal</text>
</svg></body></html>
